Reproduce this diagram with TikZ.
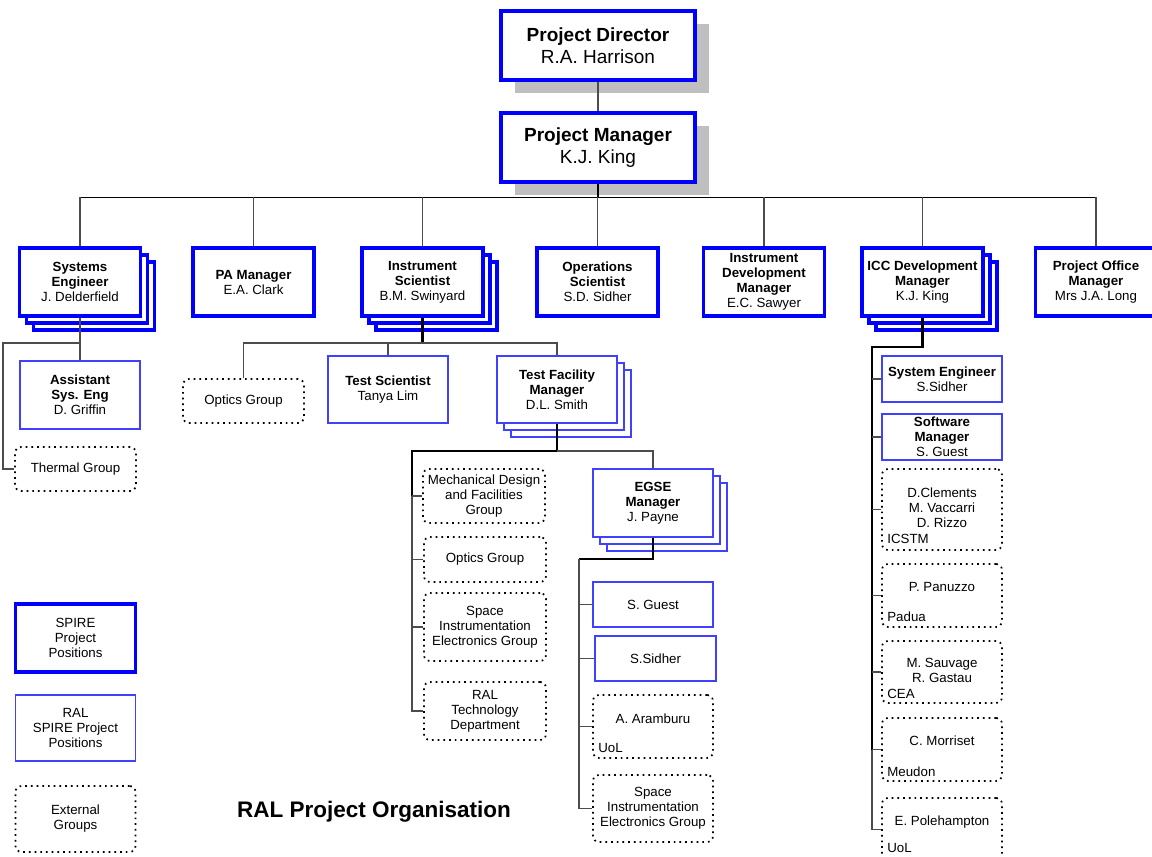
\documentclass[tikz,border=0pt]{standalone}
\usepackage{fontspec}
\setmainfont{Liberation Sans}
\usetikzlibrary{shadows,positioning}

\begin{document}
\begin{tikzpicture}[x=1pt,y=-1pt,
  every node/.style={font=\fontsize{13.3}{15}\selectfont,align=center,inner sep=0pt},
  spire/.style={draw=blue,line width=3.3pt,fill=white,minimum width=121pt,minimum height=68pt},
  ral/.style={draw=blue!75,line width=1.4pt,fill=white,minimum width=120pt,minimum height=45pt},
  ext/.style={draw=black,line width=1.7pt,dash pattern=on 1.7pt off 4pt,rounded corners=6pt,fill=white,minimum width=121pt},
  spirestack/.style={spire,double copy shadow={shadow xshift=7pt,shadow yshift=-7pt,draw=blue,line width=3.3pt}},
  ralstack/.style={ral,double copy shadow={shadow xshift=7pt,shadow yshift=-7pt,draw=blue!75,line width=1.4pt}},
  headbox/.style={spire,minimum width=194pt,minimum height=69pt,font=\fontsize{19}{22}\selectfont,
    drop shadow={shadow xshift=14pt,shadow yshift=-13pt}},
  link/.style={black!70,line width=1.2pt},
  trunk/.style={black,line width=2.3pt},
  sitelabel/.style={anchor=base west,inner sep=0pt}]
\useasboundingbox (0,0) rectangle (1152,857);
\clip (0,0) rectangle (1152,857);
%\draw[help lines] (0,0) grid[step=50] (1152,857);
\coordinate (bus) at (598,197);
\coordinate (sejoin) at (80,343);
\coordinate (seleft) at (3,343);
\coordinate (isjoin) at (422.5,343);
\coordinate (tfmjoin) at (557,451);
\coordinate (tfmleft) at (412,451);
\coordinate (egseleft) at (579,559);
\coordinate (iccleft) at (872,347);
%
\node[headbox] (dir) at (598,45.5) {\textbf{Project Director}\\R.A. Harrison};
\node[headbox] (pm) at (598,147.5) {\textbf{Project Manager}\\K.J. King};
%
\node[spirestack] (syseng) at (80,282) {\textbf{Systems}\\\textbf{Engineer}\\J. Delderfield};
\node[spire] (pa) at (253.5,282) {\textbf{PA Manager}\\E.A. Clark};
\node[spirestack] (instsci) at (422.5,282) {\textbf{Instrument}\\\textbf{Scientist}\\B.M. Swinyard};
\node[spire] (opsci) at (597.5,282) {\textbf{Operations}\\\textbf{Scientist}\\S.D. Sidher};
\node[spire] (instdev) at (764,282) {\textbf{Instrument}\\\textbf{Development}\\\textbf{Manager}\\E.C. Sawyer};
\node[spirestack] (iccdev) at (922.5,282) {\textbf{ICC Development}\\\textbf{Manager}\\K.J. King};
\node[spire] (pomgr) at (1096,282) {\textbf{Project Office}\\\textbf{Manager}\\Mrs J.A. Long};
%
% systems engineer branch
\node[ral,minimum height=68pt] (asst) at (80,395) {\textbf{Assistant}\\\textbf{Sys. Eng}\\D. Griffin};
\node[ext,minimum height=44pt] (thermal) at (75.5,469) {Thermal Group};
%
% instrument scientist branch
\node[ext,minimum height=44pt] (optics) at (243.5,401) {Optics Group};
\node[ral,minimum height=67pt] (testsci) at (388,389.5) {\textbf{Test Scientist}\\Tanya Lim};
\node[ralstack,minimum height=67pt] (tfm) at (557,389.5) {\textbf{Test Facility}\\\textbf{Manager}\\D.L. Smith};
%
\node[ext,minimum width=122pt,minimum height=54pt] (mech) at (484,496) {Mechanical Design\\and Facilities\\Group};
\node[ext,minimum width=122pt,minimum height=45pt] (optics2) at (485,559.5) {Optics Group};
\node[ext,minimum width=122pt,minimum height=68pt] (sie) at (485,627) {Space\\Instrumentation\\Electronics Group};
\node[ext,minimum width=122pt,minimum height=58pt] (raltech) at (485,711) {RAL\\Technology\\Department};
\node[ralstack,minimum height=68pt] (egse) at (653,503) {\textbf{EGSE}\\\textbf{Manager}\\J. Payne};
%
\node[ral] (guest) at (653,604.5) {S. Guest};
\node[ral,minimum width=121pt] (sidher) at (655.5,658.5) {S.Sidher};
\node[ext,minimum width=120pt,minimum height=63pt] (aram) at (653,726.5) {};
\node (aramname) at (653,719) {A. Aramburu};
\node[sitelabel] (aramsite) at ([shift={(6,-6)}]aram.south west) {UoL};
\node[ext,minimum width=120pt,minimum height=67pt] (sie2) at (653,808.5) {Space\\Instrumentation\\Electronics Group};
%
% ICC branch
\node[ral,minimum height=46pt] (icceng) at (942,379) {\textbf{System Engineer}\\S.Sidher};
\node[ral,minimum height=46pt] (swmgr) at (942,437) {\textbf{Software}\\\textbf{Manager}\\S. Guest};
\node[ext,minimum width=120pt,minimum height=81pt] (icstm) at (942,509.5) {};
\node (icstmnames) at (942,508) {D.Clements\\M. Vaccarri\\D. Rizzo};
\node[sitelabel] (icstmsite) at ([shift={(6,-7)}]icstm.south west) {ICSTM};
\node[ext,minimum width=120pt,minimum height=63pt] (padua) at (942,595.5) {};
\node (paduaname) at (942,587) {P. Panuzzo};
\node[sitelabel] (paduasite) at ([shift={(6,-6)}]padua.south west) {Padua};
\node[ext,minimum width=120pt,minimum height=62pt] (cea) at (942,672) {};
\node (ceanames) at (942,670.5) {M. Sauvage\\R. Gastau};
\node[sitelabel] (ceasite) at ([shift={(6,-5)}]cea.south west) {CEA};
\node[ext,minimum width=120pt,minimum height=63pt] (meudon) at (942,749.5) {};
\node (meudonname) at (942,740.5) {C. Morriset};
\node[sitelabel] (meudonsite) at ([shift={(6,-5)}]meudon.south west) {Meudon};
\node[ext,minimum width=120pt,minimum height=63pt] (uol) at (942,829.5) {};
\node (uolname) at (942,822.5) {E. Polehampton};
\node[sitelabel] (uolsite) at ([shift={(6,-9)}]uol.south west) {UoL};
%
% key
\node[spire,minimum width=120pt] (keyspire) at (75.5,638) {SPIRE\\Project\\Positions};
\node[ral,minimum height=66pt] (keyral) at (75.5,728) {RAL\\SPIRE Project\\Positions};
\node[ext,minimum width=120pt,minimum height=66pt] (keyext) at (75.5,819) {External\\Groups};
\node[font=\fontsize{22.5}{26}\selectfont\bfseries] (title) at (374,812) {RAL Project Organisation};
%
% lines
\draw[link] (dir.south) -- (pm.north);
\draw[trunk,line width=1.8pt] (pm.south) -- (bus);
\draw[black,line width=1pt] (syseng.north |- bus) -- (pomgr.north |- bus);
\foreach \n in {syseng,pa,instsci,opsci,instdev,iccdev,pomgr}
\draw[link] (\n.north |- bus) -- (\n.north);
%
\draw[link] (syseng.south) -- (asst.north);
\draw[link] (sejoin) -- (seleft) |- (thermal.west);
%
\draw[trunk] (instsci.south) -- (isjoin);
\draw[link] (optics.north) |- (tfm.north |- isjoin) -- (tfm.north);
\draw[link] (testsci.north |- isjoin) -- (testsci.north);
%
\draw[trunk] (tfm.south) |- (tfmleft) -- (tfmleft |- mech.west);
\draw[link] (tfmleft |- mech.west) |- (raltech.west);
\draw[link] (tfmjoin) -| (egse.north);
\foreach \n in {mech,optics2,sie}
\draw[link] (tfmleft |- \n.west) -- (\n.west);
%
\draw[trunk] (egse.south) |- (egseleft);
\draw[link] (egseleft) |- (sie2.west);
\foreach \n in {guest,sidher,aram}
\draw[link] (egseleft |- \n.west) -- (\n.west);
%
\draw[trunk] (iccdev.south) |- (iccleft) -- (iccleft |- meudon.west);
\draw[link] (iccleft |- meudon.west) |- (uol.west);
\foreach \n in {icceng,swmgr,icstm,padua,cea,meudon}
\draw[link] (iccleft |- \n.west) -- (\n.west);
\end{tikzpicture}
\end{document}
